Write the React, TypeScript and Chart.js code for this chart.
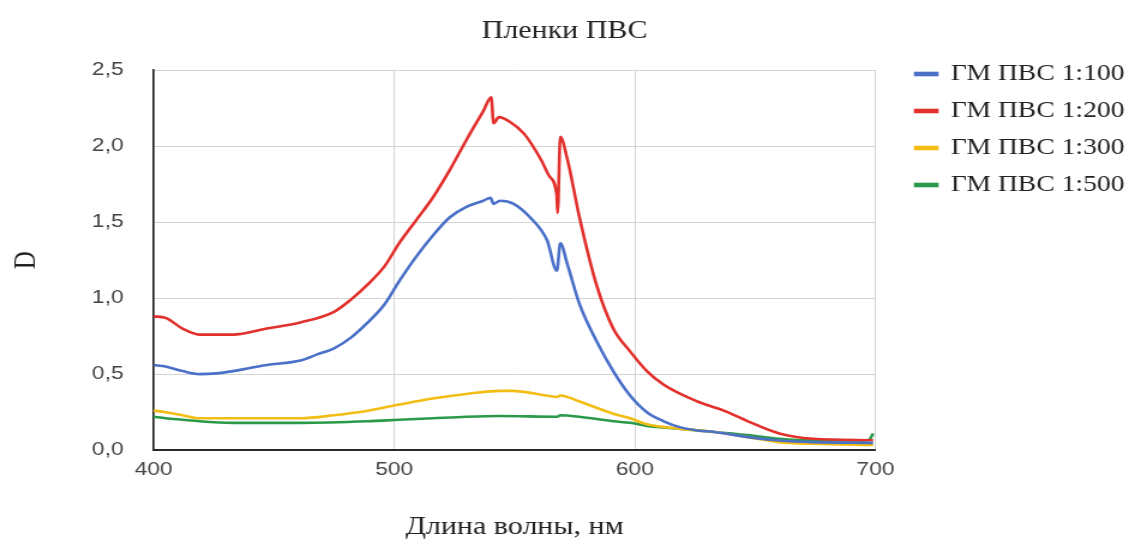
import React, { useEffect, useRef } from "react";
import { Chart, registerables } from "chart.js";

Chart.register(...registerables);

const titleText = "Пленки ПВС";
const xTitle = "Длина волны, нм";
const yTitle = "D";
const seriesNames = ["ГМ ПВС 1:100", "ГМ ПВС 1:200", "ГМ ПВС 1:300", "ГМ ПВС 1:500"];
const colors = ["#4a70c8", "#e2302c", "#f2bd14", "#2a9a4a"];
const xTicks = [400, 500, 600, 700];

// wavelengths (nm) and optical density D
const blueX = [400, 405, 412, 419, 426, 433, 440, 447, 461, 468, 475, 482, 489, 496, 502, 509, 516, 523, 530, 537, 540, 541.3, 544, 549.6, 556.5, 563.5, 567.6, 569, 572, 577, 584, 591, 598, 605, 612, 619, 626, 633, 647, 660, 674, 699];
const blueY = [0.56, 0.55, 0.52, 0.5, 0.505, 0.52, 0.54, 0.56, 0.59, 0.63, 0.67, 0.74, 0.84, 0.96, 1.11, 1.27, 1.41, 1.53, 1.6, 1.64, 1.66, 1.62, 1.64, 1.62, 1.53, 1.38, 1.18, 1.36, 1.22, 0.96, 0.72, 0.52, 0.36, 0.25, 0.19, 0.15, 0.13, 0.12, 0.086, 0.064, 0.053, 0.048];

const redX = [400, 405, 412, 419, 433, 447, 461, 475, 482, 489, 496, 502, 509, 516, 523, 530, 537, 540.3, 541.3, 543.5, 548, 554, 561, 564.5, 567.5, 567.9, 569, 572, 577, 584, 591, 598, 605, 612, 626, 637, 647, 660, 674, 699];
const redY = [0.88, 0.87, 0.8, 0.76, 0.76, 0.8, 0.84, 0.91, 0.99, 1.09, 1.21, 1.36, 1.51, 1.66, 1.84, 2.04, 2.23, 2.32, 2.15, 2.19, 2.16, 2.08, 1.91, 1.8, 1.68, 1.56, 2.06, 1.91, 1.53, 1.09, 0.8, 0.65, 0.52, 0.43, 0.32, 0.26, 0.19, 0.11, 0.075, 0.065];

const yellowX = [400, 405, 412, 419, 433, 447, 461, 475, 489, 502, 516, 530, 544, 549, 563, 567.7, 569, 577, 591, 598, 605, 619, 633, 647, 660, 674, 699];
const yellowY = [0.26, 0.25, 0.23, 0.21, 0.21, 0.21, 0.21, 0.23, 0.26, 0.3, 0.34, 0.37, 0.39, 0.39, 0.36, 0.35, 0.36, 0.32, 0.24, 0.21, 0.17, 0.14, 0.12, 0.086, 0.053, 0.042, 0.035];

const greenX = [400, 405, 412, 419, 433, 461, 489, 502, 516, 530, 544, 567.7, 569, 577, 591, 598, 605, 619, 633, 647, 660, 674, 695, 697.5, 699];
const greenY = [0.22, 0.21, 0.2, 0.19, 0.18, 0.18, 0.19, 0.2, 0.21, 0.22, 0.225, 0.22, 0.23, 0.22, 0.19, 0.18, 0.16, 0.14, 0.12, 0.1, 0.075, 0.064, 0.064, 0.07, 0.11];

const seriesX = [blueX, redX, yellowX, greenX];
const seriesY = [blueY, redY, yellowY, greenY];

// the reference picture is horizontally stretched; render on a narrower canvas and stretch it
const PAGE_W = 1129;
const PAGE_H = 542;
const CANVAS_W = 941;

export default function App() {
  const ref = useRef<HTMLCanvasElement>(null);
  useEffect(() => {
    document.body.style.margin = "0";
    const ctx = ref.current!;
    const datasets = seriesNames.map((name, i) => ({
      label: name,
      data: seriesX[i].map((x, j) => ({ x, y: seriesY[i][j] })),
      borderColor: colors[i],
      backgroundColor: colors[i],
      borderWidth: 2.6,
      pointRadius: 0,
      cubicInterpolationMode: "monotone" as const,
      fill: false,
    }));
    const chart = new Chart(ctx, {
      type: "line",
      data: { datasets },
      options: {
        animation: false,
        responsive: false,
        maintainAspectRatio: false,
        devicePixelRatio: 1,
        layout: { padding: { left: 0, right: 0, top: 0, bottom: 0 } },
        plugins: {
          title: {
            display: true,
            text: titleText,
            color: "#222",
            font: { family: "Liberation Serif", size: 25, weight: "normal" },
            padding: { top: 16, bottom: 24 },
          },
          legend: {
            position: "right",
            align: "start",
            maxWidth: 192,
            title: {
              display: true,
              text: " ",
              font: { size: 10 },
              padding: { top: 36.5, bottom: 0 },
            },
            labels: {
              boxWidth: 18,
              boxHeight: 2,
              color: "#222",
              padding: 14,
              font: { family: "Liberation Serif", size: 23 },
            },
          },
          tooltip: { enabled: false },
        },
        scales: {
          x: {
            type: "linear",
            min: 400,
            max: 700,
            afterBuildTicks: (s: any) => {
              s.ticks = xTicks.map((v) => ({ value: v }));
            },
            ticks: {
              color: "#444",
              padding: 8,
              maxRotation: 0,
              font: { family: "Liberation Sans", size: 19 },
            },
            grid: { color: "#d4d4d4", drawTicks: false },
            border: { color: "#2a2a2a", width: 2 },
            title: {
              display: true,
              text: xTitle,
              color: "#222",
              font: { family: "Liberation Serif", size: 25 },
              padding: { top: 23, bottom: 0 },
            },
          },
          y: {
            type: "linear",
            min: 0,
            max: 2.5,
            ticks: {
              stepSize: 0.5,
              color: "#444",
              padding: 25,
              font: { family: "Liberation Sans", size: 19 },
              callback: (v: any) => Number(v).toFixed(1).replace(".", ","),
            },
            grid: { color: "#d4d4d4", drawTicks: false },
            border: { color: "#2a2a2a", width: 1.7 },
            title: {
              display: true,
              text: yTitle,
              color: "#222",
              font: { family: "Liberation Serif", size: 25 },
              padding: { top: 7, bottom: 14.6 },
            },
          },
          gap: {
            type: "linear",
            position: "right",
            display: true,
            grid: { display: false },
            border: { display: false },
            ticks: { display: false },
            afterFit: (s: any) => {
              s.width = 19.3;
            },
          },
        },
      },
    });
    return () => chart.destroy();
  }, []);
  return (
    <div style={{ width: PAGE_W, height: PAGE_H, background: "#fff", overflow: "hidden" }}>
      <canvas
        ref={ref}
        width={CANVAS_W}
        height={PAGE_H}
        style={{ display: "block", width: PAGE_W + "px", height: PAGE_H + "px" }}
      />
    </div>
  );
}
